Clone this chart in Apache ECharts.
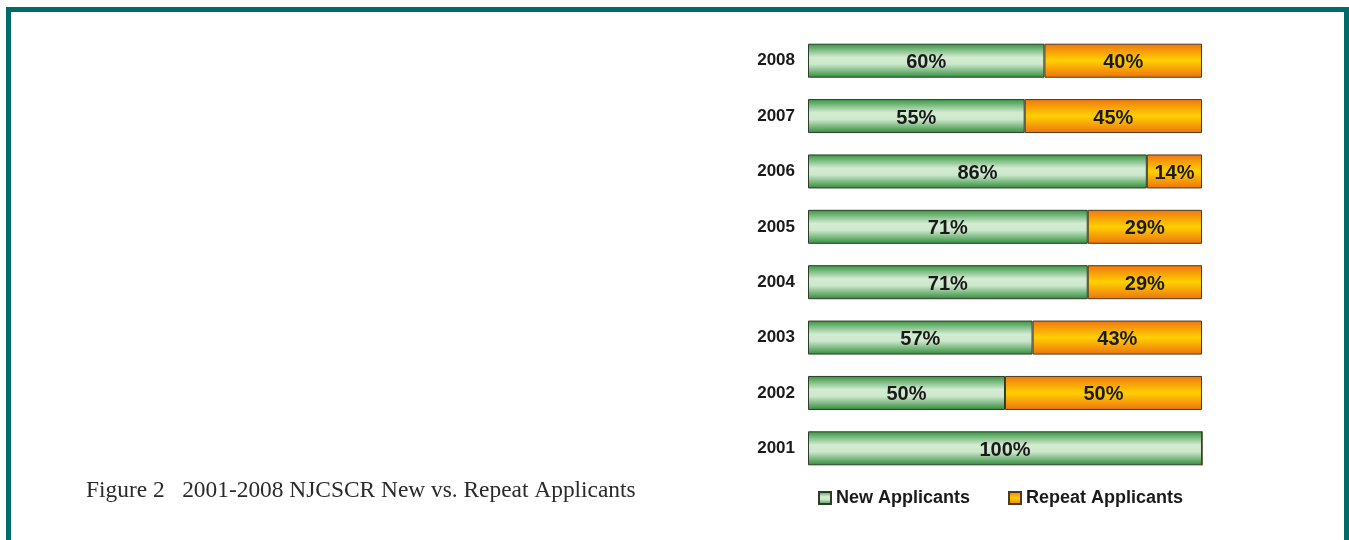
<!DOCTYPE html>
<html><head><meta charset="utf-8">
<script src="https://cdn.jsdelivr.net/npm/echarts@6/dist/echarts.min.js"></script>
<style>html,body{margin:0;padding:0;background:#fff}#c{width:1349px;height:540px}</style>
</head><body><div id="c"></div>
<script>
const years = ['2001','2002','2003','2004','2005','2006','2007','2008'];
const newApplicants = [100, 50, 57, 71, 71, 86, 55, 60];
const repeatApplicants = [0, 50, 43, 29, 29, 14, 45, 40];
const seriesNames = ['New Applicants', 'Repeat Applicants'];
const caption = 'Figure 2   2001-2008 NJCSCR New vs. Repeat Applicants';

const greenFill = new echarts.graphic.LinearGradient(0,0,0,1,[
  {offset:0,color:'#35943f'},{offset:0.4,color:'#d3ebd2'},{offset:0.6,color:'#cde8cc'},{offset:1,color:'#2f8c3a'}]);
const orangeFill = new echarts.graphic.LinearGradient(0,0,0,1,[
  {offset:0,color:'#f07610'},{offset:0.5,color:'#ffd000'},{offset:1,color:'#ee7210'}]);

const chart = echarts.init(document.getElementById('c'), null, {renderer:'canvas'});
const FONT = 'Liberation Sans, Arial, sans-serif';
const lbl = {show:true, position:'inside', offset:[0,2], fontFamily:FONT, fontWeight:'bold', fontSize:20, color:'#1a1a1a',
  formatter: p => p.value > 0 ? p.value + '%' : ''};
chart.setOption({
  animation:false,
  grid:{left:808, right:147, top:33, bottom:64},
  xAxis:{type:'value', min:0, max:100, show:false},
  yAxis:{type:'category', data:years, axisLine:{show:false}, axisTick:{show:false},
    axisLabel:{fontFamily:FONT, fontWeight:'bold', fontSize:17, color:'#1a1a1a', margin:13}},
  legend:{left:813, top:484, itemWidth:12, itemHeight:12, itemGap:38, icon:'rect',
    textStyle:{fontFamily:FONT, fontWeight:'bold', fontSize:18, color:'#1a1a1a'},
    data:seriesNames},
  series:[
    {name:seriesNames[0], type:'bar', stack:'a', data:newApplicants, barWidth:34,
      itemStyle:{color:greenFill, borderColor:'#2f3b2a', borderWidth:1}, label:lbl},
    {name:seriesNames[1], type:'bar', stack:'a', data:repeatApplicants, barWidth:34,
      itemStyle:{color:orangeFill, borderColor:'#4a3a20', borderWidth:1}, label:lbl}
  ],
  graphic:[
    {type:'polyline', shape:{points:[[8.5,545],[8.5,9.5],[1346.5,9.5],[1346.5,545]]},
      style:{stroke:'#006b6b', lineWidth:5, fill:null}},
    {type:'text', left:86, top:479, style:{text:caption, font:'23.4px "Liberation Serif", serif', fill:'#2a2a2a'}}
  ]
});
</script></body></html>
